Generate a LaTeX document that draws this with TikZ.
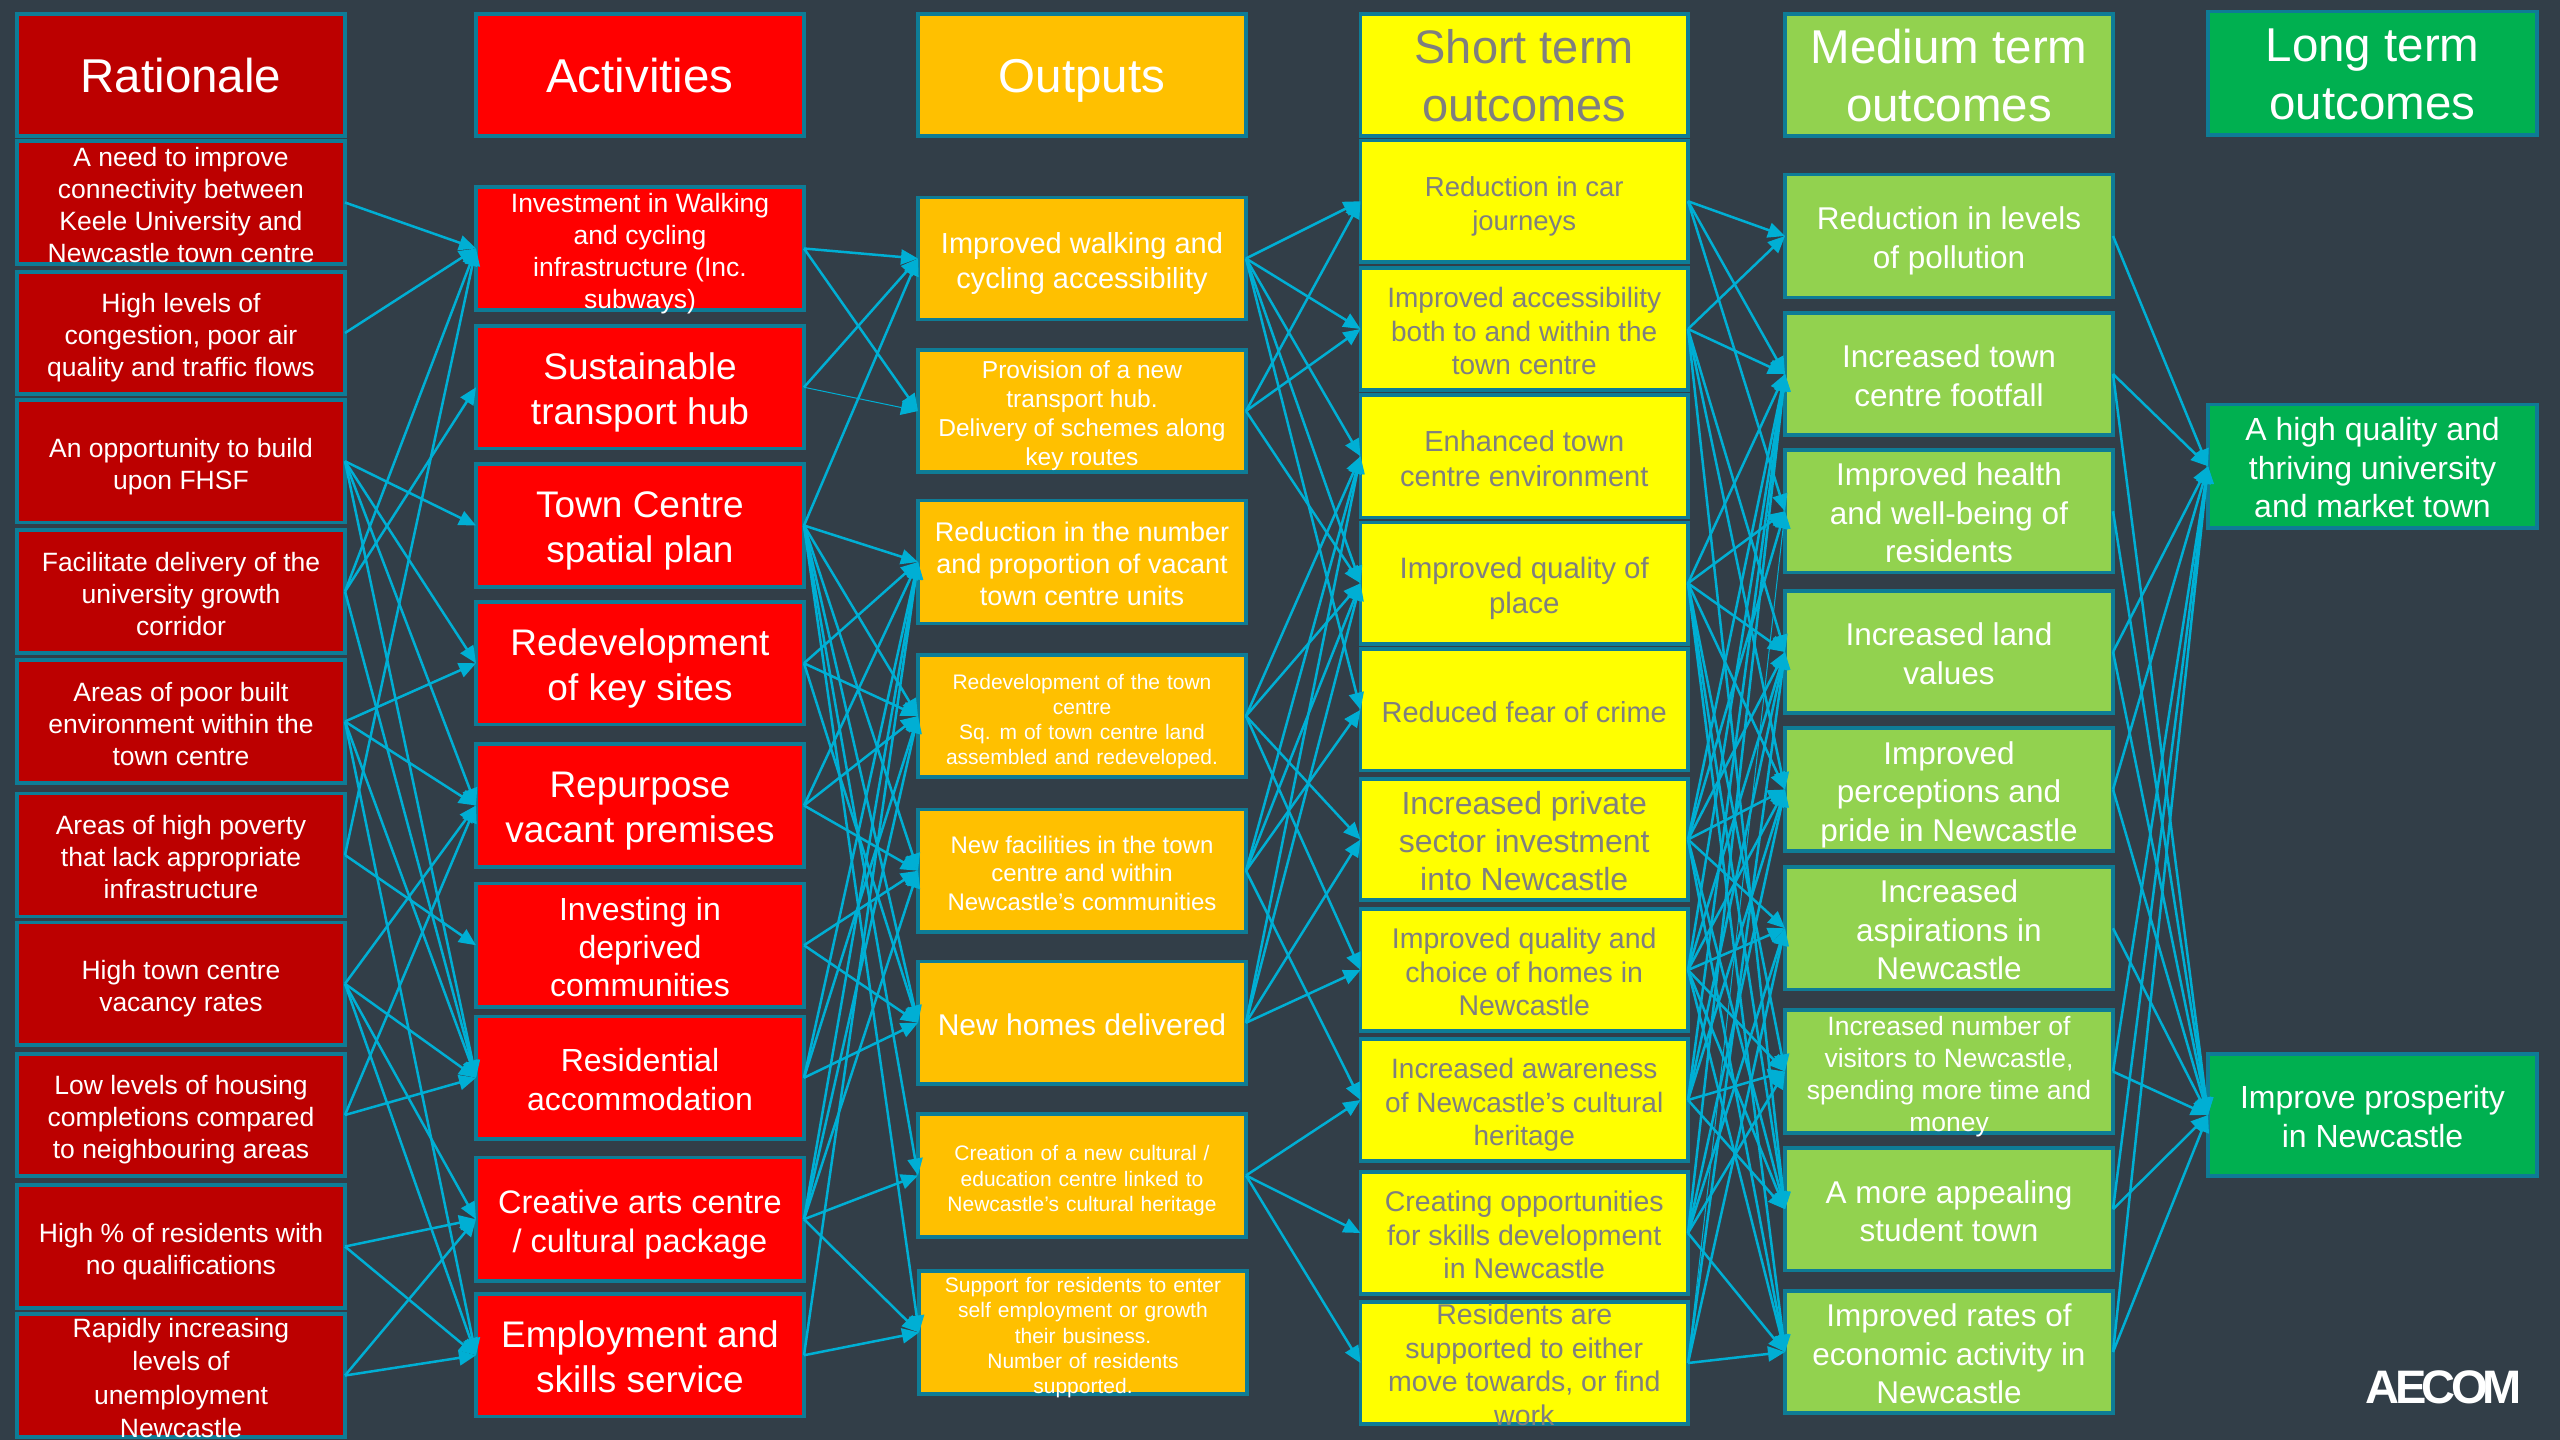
\documentclass[tikz,border=0pt]{standalone}
\usepackage{fontspec}
\setmainfont{Liberation Sans}
\usetikzlibrary{arrows.meta}
\definecolor{bgc}{HTML}{323E48}
\definecolor{edgec}{HTML}{0E7C96}
\definecolor{linkc}{HTML}{00AFD4}
\definecolor{ratc}{HTML}{BC0000}
\definecolor{actc}{HTML}{FF0000}
\definecolor{outc}{HTML}{FFC000}
\definecolor{shtc}{HTML}{FFFF00}
\definecolor{medc}{HTML}{92D24F}
\definecolor{lngc}{HTML}{00B050}
\definecolor{greyc}{HTML}{7F7F7F}
\newcommand\bxtext[1]{\vbox to 0pt{\vskip 11pt\vss\hbox{\begin{tabular}{@{}c@{}}#1\end{tabular}}\vss}}
\newcommand\bxn[7]{\node[#1,minimum height={#4-#3},font=\fontsize{#5}{#6}\selectfont] (#2) at ({0},{-(#3+#4)/2}) {\bxtext{#7}};}
\tikzset{
  boxn/.style={draw=edgec,line width=3.5pt,inner sep=0pt,outer sep=0pt,text=white},
  ratbox/.style={boxn,fill=ratc,minimum width=328pt,xshift=181pt},
  actbox/.style={boxn,fill=actc,minimum width=328pt,xshift=640pt},
  outbox/.style={boxn,fill=outc,minimum width=328pt,xshift=1082pt},
  shtbox/.style={boxn,fill=shtc,text=greyc,minimum width=327.5pt,xshift=1524.25pt},
  medbox/.style={boxn,fill=medc,minimum width=328pt,xshift=1949pt},
  lngbox/.style={boxn,fill=lngc,minimum width=329pt,xshift=2372.5pt},
  widetext/.style={execute at begin node={\spaceskip=.33em\relax}},
  conn/.style={draw=linkc,line width=2.5pt,-{Triangle[length=17pt,width=15pt]}},
  thinconn/.style={conn,line width=1pt}
}
\begin{document}
\begin{tikzpicture}[x=1pt,y=1pt]
\fill[bgc] (0,0) rectangle (2560,-1440);
\useasboundingbox (0,0) rectangle (2560,-1440);
% Rationale
\bxn{ratbox}{r0}{14}{136}{47.5}{58}{Rationale}
\bxn{ratbox}{r1}{141}{264}{26.5}{32}{A need to improve\\connectivity between\\Keele University and\\Newcastle town centre}
\bxn{ratbox}{r2}{272}{394}{26.5}{32}{High levels of\\congestion, poor air\\quality and traffic flows}
\bxn{ratbox}{r3}{400}{522.5}{26.5}{32}{An opportunity to build\\upon FHSF}
\bxn{ratbox}{r4}{530}{653}{26.5}{32}{Facilitate delivery of the\\university growth\\corridor}
\bxn{ratbox}{r5}{660}{783}{26.5}{32}{Areas of poor built\\environment within the\\town centre}
\bxn{ratbox}{r6}{793.5}{916.5}{26.5}{32}{Areas of high poverty\\that lack appropriate\\infrastructure}
\bxn{ratbox}{r7}{922.5}{1045}{26.5}{32}{High town centre\\vacancy rates}
\bxn{ratbox}{r8}{1054}{1176}{26.5}{32}{Low levels of housing\\completions compared\\to neighbouring areas}
\bxn{ratbox}{r9}{1185}{1308}{26.5}{32}{High \% of residents with\\no qualifications}
\bxn{ratbox}{r10}{1314}{1437}{26.5}{33.5}{Rapidly increasing\\levels of\\unemployment\\Newcastle}
% Activities
\bxn{actbox}{a0}{14}{136}{47.5}{58}{Activities}
\bxn{actbox}{a1}{187}{310}{26.5}{32}{Investment in Walking\\and cycling\\infrastructure (Inc.\\subways)}
\bxn{actbox}{a2}{326}{448.5}{37}{45}{Sustainable\\transport hub}
\bxn{actbox}{a3}{464}{587}{37}{45}{Town Centre\\spatial plan}
\bxn{actbox}{a4}{602}{724.5}{37}{45}{Redevelopment\\of key sites}
\bxn{actbox}{a5}{744}{867}{37}{45}{Repurpose\\vacant premises}
\bxn{actbox}{a6}{883.5}{1007}{32}{38}{Investing in\\deprived\\communities}
\bxn{actbox}{a7}{1016.5}{1139}{32}{39}{Residential\\accommodation}
\bxn{actbox}{a8}{1157.5}{1281}{32.5}{39}{Creative arts centre\\/ cultural package}
\bxn{actbox}{a9}{1294}{1416.5}{37}{45}{Employment and\\skills service}
% Outputs
\bxn{outbox}{o0}{14}{136}{47.5}{58}{Outputs}
\bxn{outbox}{o1}{197.5}{319.5}{29}{35}{Improved walking and\\cycling accessibility}
\bxn{outbox}{o2}{350}{472}{24.5}{29}{Provision of a new\\transport hub.\\Delivery of schemes along\\key routes}
\bxn{outbox}{o3}{500.5}{623.5}{27}{32}{Reduction in the number\\and proportion of vacant\\town centre units}
\bxn{outbox,widetext}{o4}{655}{777}{21}{25}{Redevelopment of the town\\centre\\Sq. m of town centre land\\assembled and redeveloped.}
\bxn{outbox}{o5}{809.5}{932}{24}{28.5}{New facilities in the town\\centre and within\\Newcastle’s communities}
\bxn{outbox}{o6}{961.5}{1084}{30}{36}{New homes delivered}
\bxn{outbox,widetext}{o7}{1114}{1237}{21}{25.3}{Creation of a new cultural /\\education centre linked to\\Newcastle’s cultural heritage}
\bxn{outbox,widetext,xshift=1pt}{o8}{1271}{1394}{21}{25.3}{Support for residents to enter\\self employment or growth\\their business.\\Number of residents\\supported.}
% Short term
\bxn{shtbox}{s0}{14}{136}{47}{58}{Short term\\outcomes}
\bxn{shtbox}{s1}{140.5}{262}{27.5}{33.5}{Reduction in car\\journeys}
\bxn{shtbox}{s2}{268}{390}{28}{33.5}{Improved accessibility\\both to and within the\\town centre}
\bxn{shtbox}{s3}{395}{517.5}{29}{35}{Enhanced town\\centre environment}
\bxn{shtbox}{s4}{522.5}{644}{29.5}{35}{Improved quality of\\place}
\bxn{shtbox}{s5}{649}{770.5}{29}{35}{Reduced fear of crime}
\bxn{shtbox}{s6}{779}{900}{32}{38}{Increased private\\sector investment\\into Newcastle}
\bxn{shtbox}{s7}{909}{1031}{28.5}{33.5}{Improved quality and\\choice of homes in\\Newcastle}
\bxn{shtbox}{s8}{1039}{1161}{28}{33.5}{Increased awareness\\of Newcastle’s cultural\\heritage}
\bxn{shtbox}{s9}{1172}{1294}{28.5}{33.5}{Creating opportunities\\for skills development\\in Newcastle}
\bxn{shtbox}{s10}{1302}{1424}{28.5}{33.5}{Residents are\\supported to either\\move towards, or find\\work}
% Medium term
\bxn{medbox}{m0}{14}{136}{47.5}{58}{Medium term\\outcomes}
\bxn{medbox}{m1}{174.5}{297.5}{31.5}{38.5}{Reduction in levels\\of pollution}
\bxn{medbox}{m2}{313}{435}{31.5}{38.5}{Increased town\\centre footfall}
\bxn{medbox}{m3}{450}{572.5}{31.5}{38.5}{Improved health\\and well-being of\\residents}
\bxn{medbox}{m4}{591}{713}{31.5}{38.5}{Increased land\\values}
\bxn{medbox}{m5}{728}{851}{31.5}{38.5}{Improved\\perceptions and\\pride in Newcastle}
\bxn{medbox}{m6}{867}{989.5}{31.5}{38.5}{Increased\\aspirations in\\Newcastle}
\bxn{medbox}{m7}{1010}{1133}{26.5}{32}{Increased number of\\visitors to Newcastle,\\spending more time and\\money}
\bxn{medbox}{m8}{1148}{1270.5}{31.5}{38.5}{A more appealing\\student town}
\bxn{medbox}{m9}{1291}{1413}{31.5}{38.5}{Improved rates of\\economic activity in\\Newcastle}
% Long term
\bxn{lngbox}{l0}{11.5}{135}{47.5}{58}{Long term\\outcomes}
\bxn{lngbox}{l1}{404.5}{528}{32}{38.5}{A high quality and\\thriving university\\and market town}
\bxn{lngbox}{l2}{1054}{1176}{32}{38.5}{Improve prosperity\\in Newcastle}
% Connectors
\foreach \p/\q in {r1/a1,r2/a1,r3/a3,r3/a4,r3/a5,r3/a7,r4/a1,r4/a2,r4/a7,r5/a4,r5/a5,r5/a7,r5/a9,r6/a1,r6/a6,r7/a5,r7/a7,r7/a8,r7/a9,r8/a5,r8/a7,r9/a8,r9/a9,r10/a8,r10/a9,
  a1/o1,a1/o2,a2/o1,a3/o1,a3/o3,a3/o4,a3/o5,a3/o6,a3/o7,a3/o8,a4/o3,a4/o4,a4/o6,a5/o3,a5/o4,a5/o5,a6/o5,a6/o6,a7/o3,a7/o4,a7/o6,a8/o3,a8/o4,a8/o5,a8/o7,a8/o8,a9/o3,a9/o8,
  o1/s1,o1/s2,o1/s3,o1/s4,o1/s5,o2/s1,o2/s2,o2/s4,o4/s3,o4/s4,o4/s6,o4/s7,o5/s3,o5/s4,o5/s5,o5/s8,o6/s3,o6/s4,o6/s6,o6/s7,o7/s8,o7/s9,o7/s10,
  s1/m1,s1/m2,s1/m3,s2/m1,s2/m2,s2/m4,s2/m5,s2/m8,s4/m2,s4/m3,s4/m4,s4/m5,s4/m7,s4/m8,s4/m9,s6/m2,s6/m3,s6/m4,s6/m5,s6/m6,s6/m8,s6/m9,s7/m2,s7/m4,s7/m5,s7/m6,s7/m7,s7/m8,s7/m9,s8/m2,s8/m4,s8/m5,s8/m7,s8/m8,s9/m2,s9/m5,s9/m6,s9/m7,s9/m9,s10/m4,s10/m6,s10/m9,
  m1/l1,m2/l1,m2/l2,m3/l2,m4/l1,m4/l2,m5/l1,m5/l2,m6/l2,m7/l1,m7/l2,m8/l1,m8/l2,m9/l1,m9/l2}
  \draw[conn] (\p.east) -- (\q.west);
\draw[thinconn] (a2.east) -- (o2.west);
\draw[thinconn] (s10.east) -- (m3.west);
% Logo
\node[text=white,inner sep=0pt,font=\fontsize{47}{47}\bfseries\selectfont] (logo) at (2444,-1387) {\addfontfeature{LetterSpace=-10}AECOM};
\end{tikzpicture}
\end{document}
